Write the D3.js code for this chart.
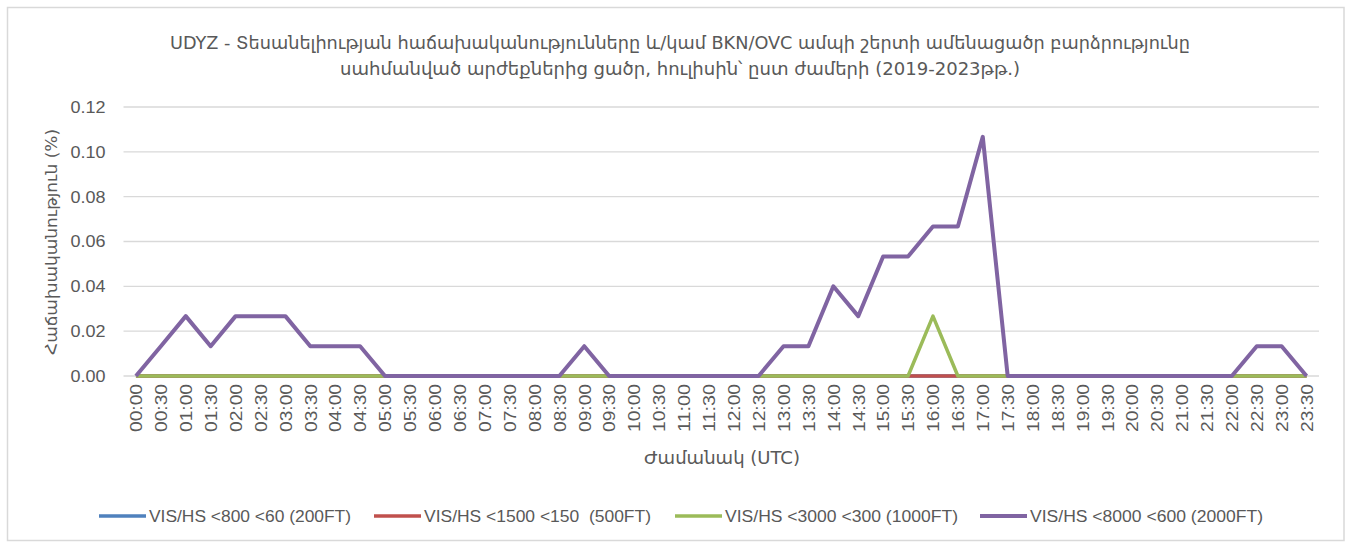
<!DOCTYPE html>
<html>
<head>
<meta charset="utf-8">
<script src="https://cdn.jsdelivr.net/npm/d3@7"></script>
<style>
  body { margin: 0; background: #fff; }
  .chart { width: 1347px; height: 543px; }
</style>
</head>
<body>
<div class="chart"></div>
<script>
const titleLines = [
  "UDYZ - Տեսանելիության հաճախականությունները և/կամ BKN/OVC ամպի շերտի ամենացածր բարձրությունը",
  "սահմանված արժեքներից ցածր, հուլիսին՝ ըստ ժամերի (2019-2023թթ.)",
];
const yTitle = "Հաճախականություն (%)";
const xTitle = "Ժամանակ (UTC)";

const times = [
  "00:00", "00:30", "01:00", "01:30", "02:00", "02:30", "03:00", "03:30",
  "04:00", "04:30", "05:00", "05:30", "06:00", "06:30", "07:00", "07:30",
  "08:00", "08:30", "09:00", "09:30", "10:00", "10:30", "11:00", "11:30",
  "12:00", "12:30", "13:00", "13:30", "14:00", "14:30", "15:00", "15:30",
  "16:00", "16:30", "17:00", "17:30", "18:00", "18:30", "19:00", "19:30",
  "20:00", "20:30", "21:00", "21:30", "22:00", "22:30", "23:00", "23:30",
];

const yTicks = [0, 0.02, 0.04, 0.06, 0.08, 0.1, 0.12];

const seriesNames = [
  "VIS/HS <800 <60 (200FT)",
  "VIS/HS <1500 <150  (500FT)",
  "VIS/HS <3000 <300 (1000FT)",
  "VIS/HS <8000 <600 (2000FT)",
];

const vis200 = [
  0, 0, 0, 0, 0, 0, 0, 0, 0, 0, 0, 0, 0, 0, 0, 0,
  0, 0, 0, 0, 0, 0, 0, 0, 0, 0, 0, 0, 0, 0, 0, 0,
  0, 0, 0, 0, 0, 0, 0, 0, 0, 0, 0, 0, 0, 0, 0, 0,
];
const vis500 = [
  0, 0, 0, 0, 0, 0, 0, 0, 0, 0, 0, 0, 0, 0, 0, 0,
  0, 0, 0, 0, 0, 0, 0, 0, 0, 0, 0, 0, 0, 0, 0, 0,
  0, 0, 0, 0, 0, 0, 0, 0, 0, 0, 0, 0, 0, 0, 0, 0,
];
const vis1000 = [
  0, 0, 0, 0, 0, 0, 0, 0, 0, 0, 0, 0, 0, 0, 0, 0,
  0, 0, 0, 0, 0, 0, 0, 0, 0, 0, 0, 0, 0, 0, 0, 0,
  0.0267, 0, 0, 0, 0, 0, 0, 0, 0, 0, 0, 0, 0, 0, 0, 0,
];
const vis2000 = [
  0, 0.0133, 0.0267, 0.0133, 0.0267, 0.0267, 0.0267, 0.0133,
  0.0133, 0.0133, 0, 0, 0, 0, 0, 0,
  0, 0, 0.0133, 0, 0, 0, 0, 0,
  0, 0, 0.0133, 0.0133, 0.04, 0.0267, 0.0533, 0.0533,
  0.0667, 0.0667, 0.1067, 0, 0, 0, 0, 0,
  0, 0, 0, 0, 0, 0.0133, 0.0133, 0,
];

const seriesValues = [vis200, vis500, vis1000, vis2000];
const seriesColors = ["#4F81BD", "#C0504D", "#9BBB59", "#8064A2"];
const seriesWidths = [3.5, 3.5, 3.5, 4];

function drawChart() {
  const W = 1347;
  const H = 543;
  const plot = { left: 123.5, right: 1319, top: 107, bottom: 376 };
  const textColor = "#595959";
  const armFont = "'DejaVu Sans Condensed', 'DejaVu Sans', sans-serif";
  const latFont = "'Liberation Sans', Arial, sans-serif";

  const svg = d3
    .select(".chart")
    .append("svg")
    .attr("width", W)
    .attr("height", H);

  // chart border
  svg
    .append("rect")
    .attr("x", 7.5)
    .attr("y", 7.5)
    .attr("width", 1336.5)
    .attr("height", 533)
    .attr("fill", "#fff")
    .attr("stroke", "#D9D9D9")
    .attr("stroke-width", 1.5);

  const x = d3
    .scalePoint()
    .domain(times)
    .range([plot.left, plot.right])
    .padding(0.5);

  const y = d3
    .scaleLinear()
    .domain([0, 0.12])
    .range([plot.bottom, plot.top]);

  // gridlines
  svg
    .selectAll(".grid")
    .data(yTicks)
    .enter()
    .append("line")
    .attr("class", "grid")
    .attr("x1", plot.left)
    .attr("x2", plot.right)
    .attr("y1", (d) => y(d))
    .attr("y2", (d) => y(d))
    .attr("stroke", "#D9D9D9")
    .attr("stroke-width", 1.3);

  // y axis labels
  const yAxis = svg
    .append("g")
    .attr("transform", `translate(${plot.left - 6},0)`)
    .call(d3.axisLeft(y).tickValues(yTicks).tickSize(0).tickPadding(12).tickFormat(d3.format(".2f")));
  yAxis.select(".domain").remove();
  yAxis
    .selectAll("text")
    .attr("fill", textColor)
    .attr("font-family", latFont)
    .attr("font-size", "17px")
    .attr("textLength", 35)
    .attr("lengthAdjust", "spacingAndGlyphs");

  // x axis labels
  const xAxis = svg
    .append("g")
    .attr("transform", `translate(0,${plot.bottom})`)
    .call(d3.axisBottom(x).tickSize(0));
  xAxis.select(".domain").remove();
  xAxis
    .selectAll("text")
    .attr("fill", textColor)
    .attr("font-family", latFont)
    .attr("font-size", "16px")
    .attr("text-anchor", "end")
    .attr("dy", "0.36em")
    .attr("transform", "translate(0,8) rotate(-90)")
    .attr("x", 0)
    .attr("y", 0)
    .attr("textLength", 48)
    .attr("lengthAdjust", "spacingAndGlyphs");

  // lines
  const line = d3
    .line()
    .x((d, i) => x(times[i]))
    .y((d) => y(d));

  seriesValues.forEach((values, i) => {
    svg
      .append("path")
      .datum(values)
      .attr("fill", "none")
      .attr("stroke", seriesColors[i])
      .attr("stroke-width", seriesWidths[i])
      .attr("stroke-linejoin", "round")
      .attr("d", line);
  });

  // title
  const titleWidths = [1020, 680];
  titleLines.forEach((t, i) => {
    svg
      .append("text")
      .attr("x", 680)
      .attr("y", 49 + i * 26)
      .attr("text-anchor", "middle")
      .attr("font-family", armFont)
      .attr("font-size", "17px")
      .attr("fill", textColor)
      .attr("textLength", titleWidths[i])
      .attr("lengthAdjust", "spacingAndGlyphs")
      .text(t);
  });

  // axis titles
  svg
    .append("text")
    .attr("transform", "rotate(-90)")
    .attr("x", -242)
    .attr("y", 57)
    .attr("text-anchor", "middle")
    .attr("font-family", armFont)
    .attr("font-size", "16px")
    .attr("fill", textColor)
    .attr("textLength", 226)
    .attr("lengthAdjust", "spacingAndGlyphs")
    .text(yTitle);

  svg
    .append("text")
    .attr("x", 722)
    .attr("y", 464)
    .attr("text-anchor", "middle")
    .attr("font-family", armFont)
    .attr("font-size", "17px")
    .attr("fill", textColor)
    .attr("textLength", 156)
    .attr("lengthAdjust", "spacingAndGlyphs")
    .text(xTitle);

  // legend
  const legendX = [99, 374, 675, 980];
  const legendTextW = [202, 227, 233, 233];
  seriesNames.forEach((name, i) => {
    svg
      .append("line")
      .attr("x1", legendX[i])
      .attr("x2", legendX[i] + 47)
      .attr("y1", 516)
      .attr("y2", 516)
      .attr("stroke", seriesColors[i])
      .attr("stroke-width", seriesWidths[i]);
    svg
      .append("text")
      .attr("x", legendX[i] + 50)
      .attr("y", 522)
      .attr("font-family", latFont)
      .attr("font-size", "16px")
      .attr("fill", textColor)
      .attr("textLength", legendTextW[i])
      .attr("lengthAdjust", "spacingAndGlyphs")
      .style("white-space", "pre")
      .text(name);
  });
}

drawChart();
</script>
</body>
</html>
